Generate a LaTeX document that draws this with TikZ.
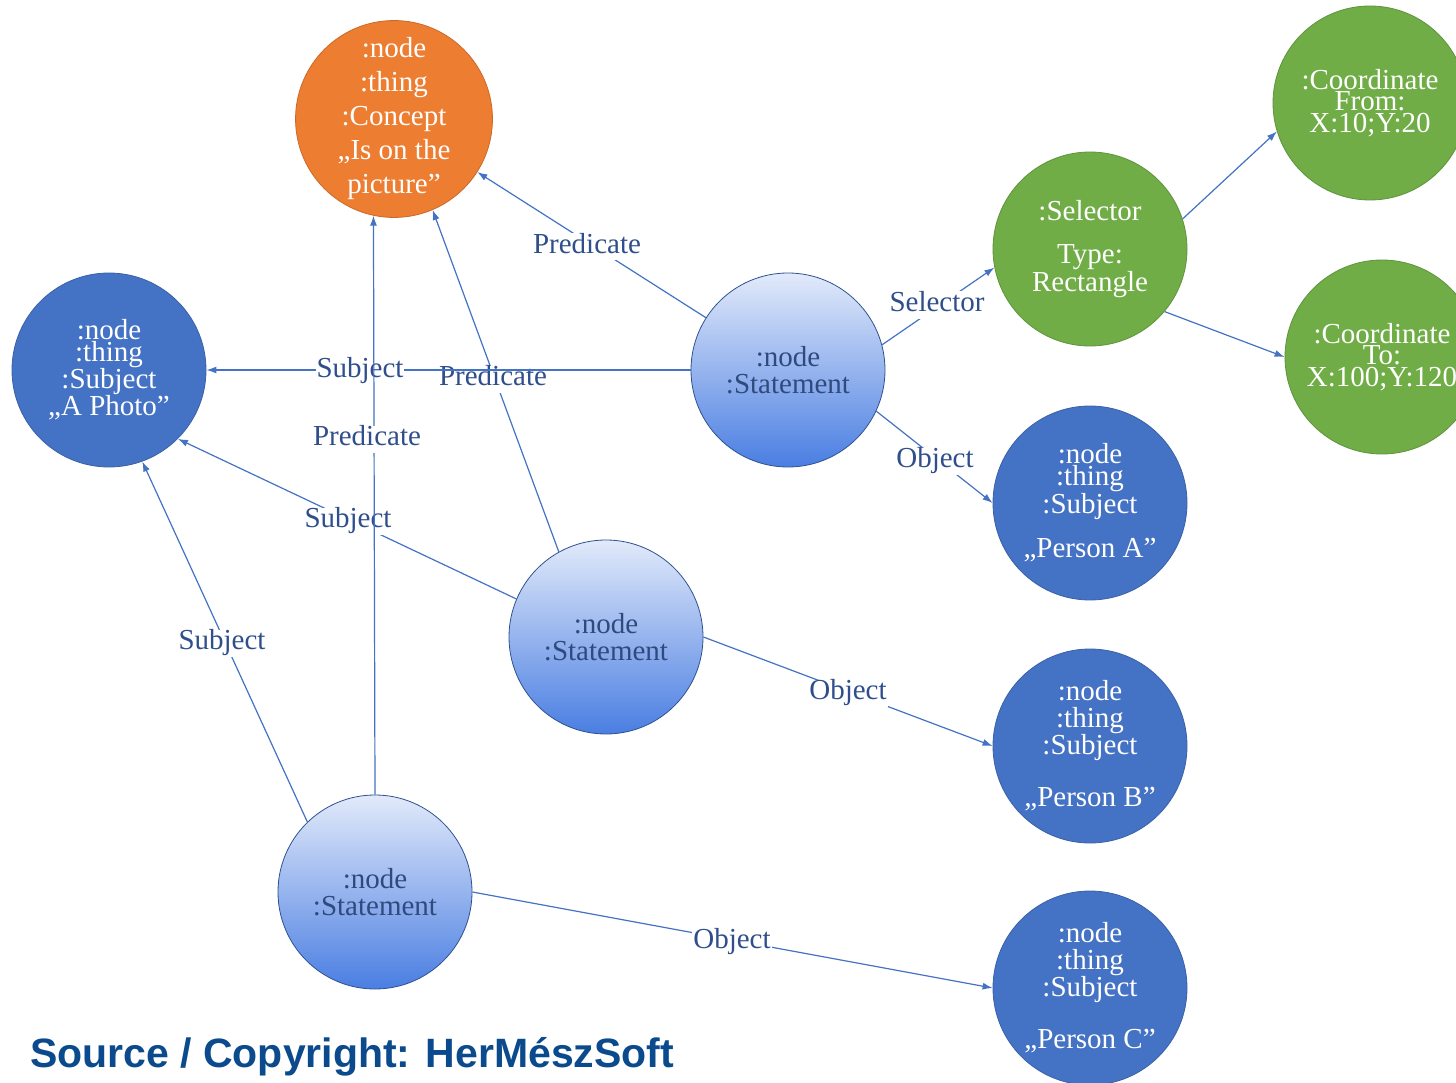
\documentclass[tikz,border=0pt]{standalone}
\usepackage{fontspec}
\setmainfont{Liberation Serif}
\newfontfamily\srcfont{Liberation Sans}
\usetikzlibrary{arrows.meta}
\definecolor{edgeblue}{HTML}{4472C4}
\definecolor{lblblue}{HTML}{2F4E8C}
\definecolor{stmtext}{HTML}{2E4A7E}
\definecolor{darkfill}{HTML}{4472C4}
\definecolor{orangefill}{HTML}{ED7D31}
\definecolor{greenfill}{HTML}{70AD47}
\definecolor{srcblue}{HTML}{0B4A8C}
\definecolor{stmtop}{RGB}{226,234,250}
\definecolor{stmbottom}{RGB}{74,126,226}
\definecolor{stmborder}{HTML}{2F528F}
\begin{document}
\begin{tikzpicture}[x=1pt,y=-1pt,
  circ/.style={circle, minimum size=194pt, inner sep=0pt, align=center,
    line width=0.8pt, font=\fontsize{29}{34}\selectfont},
  conceptnode/.style={circ, fill=orangefill, draw=orangefill!85!black, text=white},
  subjnode/.style={circ, fill=darkfill, draw=darkfill!85!black, text=white,
    font=\fontsize{29}{22}\selectfont},
  selnode/.style={circ, fill=greenfill, draw=greenfill!85!black, text=white,
    font=\fontsize{29}{22}\selectfont},
  stmnode/.style={circ, top color=stmtop, bottom color=stmbottom, draw=stmborder,
    text=stmtext, font=\fontsize{29}{27}\selectfont},
  edge/.style={draw=edgeblue, line width=1.2pt, -{Latex[length=10pt,width=7pt]}},
  lbl/.style={fill=white, text=lblblue, font=\fontsize{29}{30}\selectfont,
    inner sep=1pt, text height=19pt, text depth=6pt, yshift=-3pt}
]
\useasboundingbox[fill=white] (0,0) rectangle (1456,1083);

% nodes
\node[conceptnode] (concept) at (394,119) {:node\\:thing\\:Concept\\„Is on the\\picture”};
\node[subjnode, font=\fontsize{29}{21.5}\selectfont] (photo) at (109,370) {:node\\:thing\\:Subject\\„A Photo”};
\node[stmnode] (st1) at (788,370) {:node\\:Statement};
\node[stmnode] (st2) at (606,637) {:node\\:Statement};
\node[stmnode] (st3) at (375,892) {:node\\:Statement};
\node[selnode] (sel) at (1090,249) {:Selector\\[21pt]Type:\\Rectangle};
\node[selnode, font=\fontsize{29}{21.5}\selectfont] (cfrom) at (1370,103) {:Coordinate\\From:\\X:10;Y:20};
\node[selnode, font=\fontsize{29}{21.5}\selectfont] (cto) at (1382,357) {:Coordinate\\To:\\X:100;Y:120};
\node[subjnode] (pa) at (1090,503) {:node\\:thing\\:Subject\\[18pt]„Person A”};
\node[subjnode, font=\fontsize{29}{27}\selectfont] (pb) at (1090,746) {:node\\:thing\\:Subject\\[25pt]„Person B”};
\node[subjnode, font=\fontsize{29}{27}\selectfont] (pc) at (1090,988) {:node\\:thing\\:Subject\\[25pt]„Person C”};

% connectors
\draw[edge] (st1) -- (concept) node[lbl, at={(587,244)}] (l1) {Predicate};
\draw[edge] (st2.119) -- (concept.-67) node[lbl, at={(493,376)}] (l2) {Predicate};
\draw[edge] (st1) -- (photo) node[lbl, at={(360,368)}] (l3) {Subject};
\draw[edge] (st1.15) -- (sel.191) node[lbl, at={(937,302)}] (l4) {Selector};
\draw[edge] (st1.-25) -- (pa.west) node[lbl, at={(935,458)}] (l5) {Object};
\draw[edge] (sel.18) -- (cfrom.197);
\draw[edge] (sel.-40) -- (cto.west);
\draw[edge] (st2.157) -- (photo.-45) node[lbl, at={(348,518)}] (l6) {Subject};
\draw[edge] (st2.east) -- (pb.west) node[lbl, at={(848,690)}] (l7) {Object};
\draw[edge] (st3.134) -- (photo.-70) node[lbl, at={(222,640)}] (l8) {Subject};
\draw[edge] (st3.east) -- (pc.west) node[lbl, at={(732,939)}] (l9) {Object};
\draw[edge] (st3.north) -- (concept.258.6) node[lbl, at={(367,436)}] (l10) {Predicate};

% footer
\node[anchor=base west, inner sep=0pt, text=srcblue,
  font=\srcfont\fontsize{41}{41}\selectfont\bfseries] (src) at (30,1067)
  {Source / Copyright: HerMészSoft};
\end{tikzpicture}
\end{document}
